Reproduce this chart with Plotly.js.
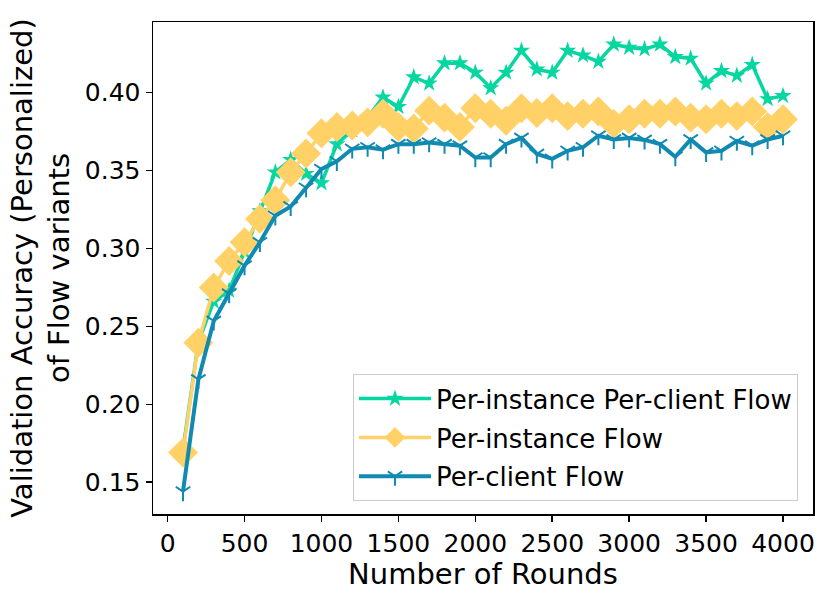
<!DOCTYPE html>
<html>
<head>
<meta charset="utf-8">
<script src="https://cdn.plot.ly/plotly-3.0.1.min.js"></script>
<style>html,body{margin:0;padding:0;background:#fff;}#chart{width:830px;height:602px;}</style>
</head>
<body>
<div id="chart"></div>
<script>
var rounds = [100,200,300,400,500,600,700,800,900,1000,1100,1200,1300,1400,1500,1600,1700,1800,1900,2000,
              2100,2200,2300,2400,2500,2600,2700,2800,2900,3000,3100,3200,3300,3400,3500,3600,3700,3800,3900,4000];
var perInstancePerClient = [0.171,0.240,0.266,0.273,0.298,0.324,0.349,0.357,0.348,0.342,0.367,0.376,0.384,0.397,0.391,0.410,0.406,0.419,0.419,0.413,
                            0.403,0.413,0.427,0.415,0.413,0.427,0.424,0.420,0.431,0.429,0.428,0.431,0.423,0.422,0.406,0.414,0.411,0.418,0.396,0.398];
var perInstance = [0.169,0.2395,0.275,0.292,0.304,0.319,0.331,0.349,0.361,0.374,0.378,0.379,0.381,0.3865,0.378,0.377,0.3885,0.384,0.378,0.390,
                   0.3865,0.382,0.390,0.387,0.390,0.385,0.3865,0.388,0.380,0.383,0.3865,0.3865,0.388,0.384,0.383,0.3865,0.385,0.388,0.378,0.383];
var perClient = [0.144,0.216,0.2535,0.271,0.289,0.304,0.321,0.327,0.339,0.351,0.356,0.364,0.365,0.3634,0.367,0.367,0.368,0.367,0.366,0.3584,
                 0.3584,0.367,0.371,0.3607,0.3576,0.3627,0.365,0.3724,0.370,0.371,0.3697,0.367,0.3589,0.370,0.3617,0.3627,0.369,0.366,0.370,0.3724];
var seriesNames = ["Per-instance Per-client Flow","Per-instance Flow","Per-client Flow"];
var xTicks = [0,500,1000,1500,2000,2500,3000,3500,4000];
var yTicks = [0.15,0.20,0.25,0.30,0.35,0.40];

var font = "DejaVu Sans, Liberation Sans, sans-serif";
var traces = [
  {x: rounds, y: perInstancePerClient, name: seriesNames[0], mode: "lines+markers", legendgroup: "a",
   line: {color: "#06D6A0", width: 3.5},
   marker: {symbol: "star", size: 13, color: "#06D6A0"}},
  {x: rounds, y: perInstance, name: seriesNames[1], mode: "lines+markers", legendgroup: "b",
   line: {color: "#FFD166", width: 3.5},
   marker: {symbol: "diamond", size: 23, color: "#FFD166"}},
  {x: rounds, y: perClient, name: seriesNames[2], mode: "lines+markers", legendgroup: "c",
   line: {color: "#118AB2", width: 4},
   marker: {symbol: "y-down", size: 12, color: "#118AB2", line: {color: "#118AB2", width: 2}}}
];
var layout = {
  width: 830, height: 602,
  margin: {l: 153, r: 17, t: 22, b: 88},
  paper_bgcolor: "#fff", plot_bgcolor: "#fff",
  font: {family: font, color: "#000", size: 25},
  showlegend: true,
  legend: {x: 0.303, y: 0.026, xanchor: "left", yanchor: "bottom",
           bgcolor: "rgba(255,255,255,0.9)", bordercolor: "#cccccc", borderwidth: 1,
           font: {family: font, size: 26, color: "#000"}, tracegroupgap: 2, itemwidth: 72},
  xaxis: {range: [-95, 4195], tickvals: xTicks, ticktext: xTicks.map(String),
          showgrid: false, zeroline: false, showline: true, mirror: true,
          linecolor: "#000", linewidth: 1.5, ticks: "outside", ticklen: 6, tickwidth: 1.5, tickcolor: "#000",
          tickfont: {size: 25},
          title: {text: "Number of Rounds", font: {size: 29}, standoff: 6}},
  yaxis: {range: [0.1296, 0.4454], tickvals: yTicks, ticktext: yTicks.map(function(v){return v.toFixed(2);}),
          showgrid: false, zeroline: false, showline: true, mirror: true,
          linecolor: "#000", linewidth: 1.5, ticks: "outside", ticklen: 6, tickwidth: 1.5, tickcolor: "#000",
          tickfont: {size: 25},
          title: {text: "Validation Accuracy (Personalized)<br>of Flow variants", font: {size: 29}, standoff: 6}}
};
Plotly.newPlot("chart", traces, layout, {displayModeBar: false, staticPlot: true});
</script>
</body>
</html>
